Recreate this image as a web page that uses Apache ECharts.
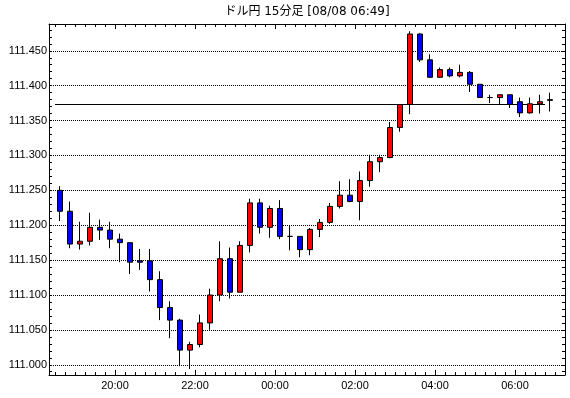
<!DOCTYPE html>
<html><head><meta charset="utf-8">
<script src="https://cdn.jsdelivr.net/npm/echarts@6/dist/echarts.min.js"></script>
<style>html,body{margin:0;padding:0;background:#fff}#c{width:570px;height:398px}</style>
</head><body><div id="c"></div>
<script>
const titleText = 'ドル円 15分足 [08/08 06:49]';
const times = ['18:30','18:45','19:00','19:15','19:30','19:45','20:00','20:15','20:30','20:45',
  '21:00','21:15','21:30','21:45','22:00','22:15','22:30','22:45','23:00','23:15',
  '23:30','23:45','00:00','00:15','00:30','00:45','01:00','01:15','01:30','01:45',
  '02:00','02:15','02:30','02:45','03:00','03:15','03:30','03:45','04:00','04:15',
  '04:30','04:45','05:00','05:15','05:30','05:45','06:00','06:15','06:30','06:45'];
const opens = [111.250,111.220,111.173,111.177,111.197,111.193,111.180,111.175,111.149,111.149,
  111.122,111.082,111.064,111.021,111.029,111.060,111.100,111.152,111.104,111.171,
  111.232,111.197,111.224,111.184,111.184,111.165,111.194,111.204,111.227,111.243,
  111.234,111.264,111.291,111.297,111.340,111.373,111.474,111.437,111.412,111.423,
  111.414,111.419,111.402,111.383,111.383,111.387,111.377,111.361,111.374,111.380];
const highs = [111.256,111.234,111.205,111.218,111.208,111.205,111.188,111.175,111.166,111.166,
  111.134,111.091,111.066,111.033,111.072,111.109,111.177,111.168,111.177,111.238,
  111.238,111.228,111.236,111.200,111.184,111.196,111.209,111.232,111.263,111.266,
  111.277,111.301,111.301,111.348,111.373,111.478,111.475,111.445,111.426,111.426,
  111.430,111.421,111.402,111.387,111.387,111.387,111.383,111.383,111.387,111.390];
const lows = [111.206,111.167,111.165,111.171,111.179,111.167,111.147,111.130,111.136,111.105,
  111.064,111.038,110.998,110.994,111.025,111.050,111.091,111.095,111.104,111.161,
  111.188,111.182,111.180,111.164,111.154,111.157,111.183,111.202,111.224,111.233,
  111.207,111.255,111.276,111.296,111.334,111.359,111.434,111.411,111.411,111.412,
  111.412,111.391,111.383,111.375,111.373,111.368,111.355,111.360,111.360,111.363];
const closes = [111.220,111.173,111.177,111.197,111.193,111.180,111.175,111.147,111.147,111.122,
  111.082,111.064,111.021,111.029,111.060,111.100,111.152,111.104,111.171,111.232,
  111.197,111.224,111.184,111.184,111.165,111.194,111.204,111.227,111.243,111.234,
  111.264,111.291,111.297,111.340,111.373,111.474,111.437,111.412,111.423,111.414,
  111.419,111.402,111.383,111.383,111.387,111.373,111.361,111.374,111.377,111.379];
const refLevel = 111.373;
const yTickLabels = ['111.000','111.050','111.100','111.150','111.200','111.250','111.300','111.350','111.400','111.450'];
const xTickLabels = ['20:00','22:00','00:00','02:00','04:00','06:00'];

const Y_MIN = 110.98534, Y_MAX = 111.48837;
const X_MIN = 1.4, X_MAX = 53;
const FONT = 'Liberation Sans';

const candleData = opens.map((o, i) => [o, closes[i], lows[i], highs[i]]);
const refLine = [[0, refLevel], [times.length - 1, refLevel]];

function yLabel(v) {
  for (const s of yTickLabels) { if (Math.abs(parseFloat(s) - v) < 1e-6) return s; }
  return '';
}
function xLabel(v) {
  const r = Math.round(v);
  if (Math.abs(v - r) > 1e-6 || r % 8 !== 0) return '';
  const idx = r / 8 - 1;
  return (idx >= 0 && idx < xTickLabels.length) ? xTickLabels[idx] : '';
}
const blk = '#000';
const frameX = (pos, step, len, withLine, withLabel) => ({
  type: 'value', gridIndex: 0, position: pos, min: X_MIN, max: X_MAX,
  minInterval: step, maxInterval: step,
  axisLine: { show: withLine, lineStyle: { color: blk, width: 1 } },
  axisTick: { show: true, inside: true, length: len, lineStyle: { color: blk, width: 1 } },
  axisLabel: withLabel ? { show: true, formatter: xLabel, color: blk, fontFamily: FONT, fontSize: 11, margin: 5,
    showMinLabel: false, showMaxLabel: false } : { show: false },
  splitLine: { show: false }
});
const frameY = (pos, step, len, withLine, withLabel, withSplit) => ({
  type: 'value', gridIndex: 0, position: pos, min: Y_MIN, max: Y_MAX,
  minInterval: step, maxInterval: step,
  axisLine: { show: withLine, lineStyle: { color: blk, width: 1 } },
  axisTick: { show: len > 0, inside: true, length: len, lineStyle: { color: blk, width: 1 } },
  axisLabel: withLabel ? { show: true, formatter: yLabel, color: blk, fontFamily: FONT, fontSize: 11, margin: 2,
    showMinLabel: false, showMaxLabel: false } : { show: false },
  splitLine: withSplit ? { show: true, lineStyle: { color: blk, width: 1, type: [1, 1] } } : { show: false }
});

const chart = echarts.init(document.getElementById('c'), null, { renderer: 'canvas' });
chart.setOption({
  animation: false,
  backgroundColor: '#ffffff',
  title: {
    text: titleText, left: 307, top: 6, textAlign: 'center', padding: 0,
    textStyle: { color: blk, fontSize: 12, fontWeight: 'normal', fontFamily: "'DejaVu Sans', 'Noto Sans CJK JP'" }
  },
  grid: [
    { left: 49, top: 24, width: 516, height: 351, containLabel: false, outerBoundsMode: 'none' },
    { left: 55, top: 24, width: 500, height: 351, containLabel: false, outerBoundsMode: 'none' }
  ],
  xAxis: [
    frameX('bottom', 8, 5, true, true),
    frameX('bottom', 1, 3, false, false),
    frameX('top', 8, 5, true, false),
    frameX('top', 1, 3, false, false),
    { type: 'category', gridIndex: 1, data: times, show: false, boundaryGap: true },
    { type: 'value', gridIndex: 1, min: 0, max: times.length, show: false }
  ],
  yAxis: [
    frameY('left', 0.05, 0, true, true, true),
    frameY('left', 0.01, 3, false, false, false),
    frameY('right', 0.01, 3, true, false, false),
    { type: 'value', gridIndex: 1, min: Y_MIN, max: Y_MAX, show: false, splitLine: { show: false } }
  ],
  series: [
    {
      type: 'line', xAxisIndex: 5, yAxisIndex: 3, data: refLine, symbol: 'none', silent: true,
      lineStyle: { color: blk, width: 1 }, z: 1
    },
    {
      type: 'candlestick', xAxisIndex: 4, yAxisIndex: 3, data: candleData, barWidth: 6, silent: true, z: 3,
      itemStyle: { color: '#ff0000', color0: '#0000ff', borderColor: blk, borderColor0: blk, borderColorDoji: blk, borderWidth: 1 }
    }
  ]
});
</script></body></html>
